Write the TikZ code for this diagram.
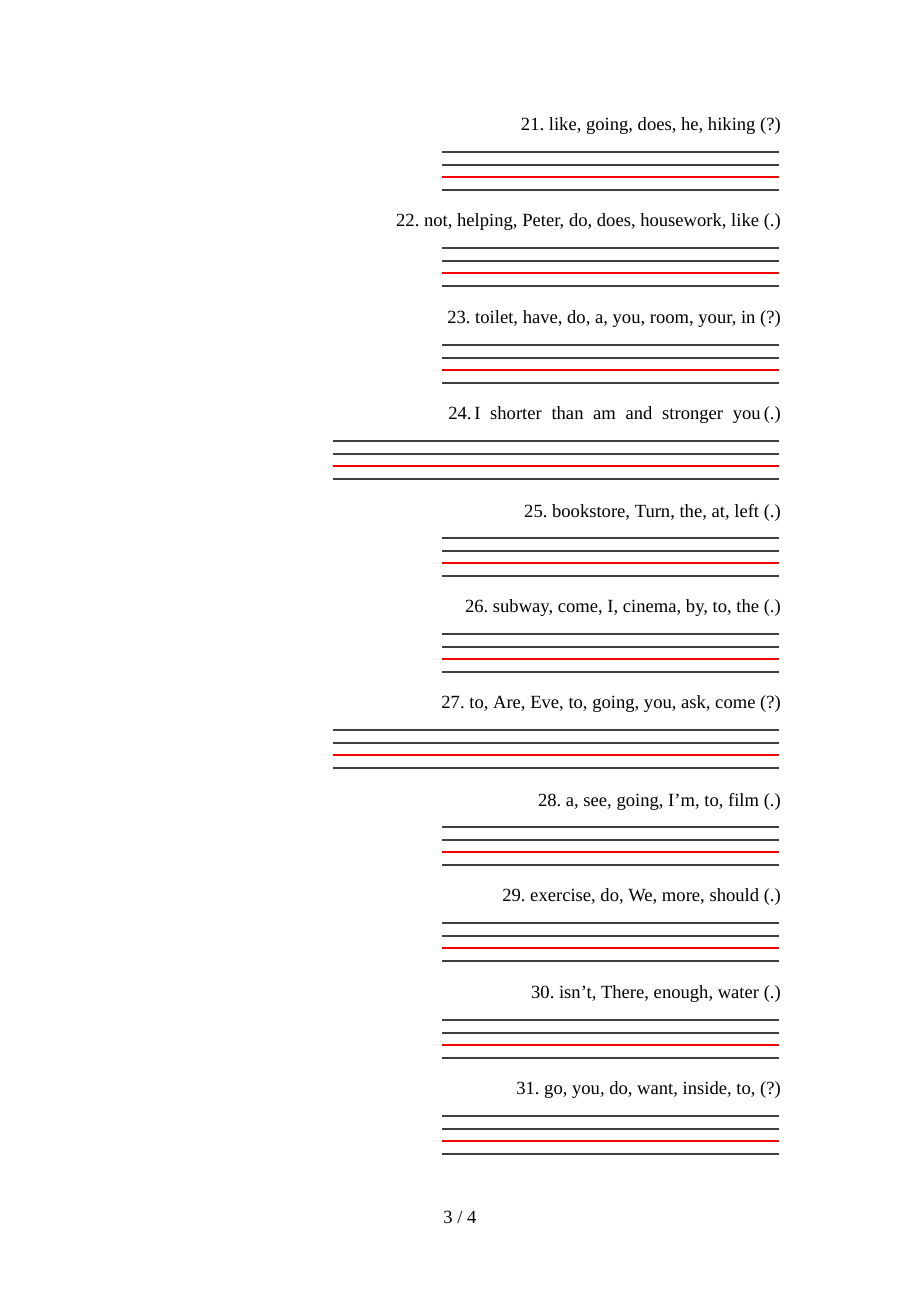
\documentclass[tikz,border=0pt]{standalone}
\usepackage{fontspec}
\setmainfont{Liberation Serif}
\frenchspacing
\newcommand\ruleset[2]{%
  \draw[rl] (#2,#1+28) -- (779,#1+28);
  \draw[rl] (#2,#1+41) -- (779,#1+41);
  \draw[redl] (#2,#1+53) -- (779,#1+53);
  \draw[rl] (#2,#1+66) -- (779,#1+66);}
\begin{document}
\begin{tikzpicture}[x=1pt,y=-1pt,
  q/.style={anchor=east,inner sep=0pt,font=\fontsize{18.6}{21}\selectfont},
  rl/.style={line width=1.1pt,draw=black!75},
  redl/.style={line width=1.1pt,draw=red!95!black}]
\useasboundingbox (0,0) rectangle (920,1302);
\node[q] (q21) at (781,126.5) {21. like, going, does, he, hiking (?)};
\ruleset{124}{442}
\node[q] (q22) at (781,222.5) {22. not, helping, Peter, do, does, housework, like (.)};
\ruleset{220}{442}
\node[q] (q23) at (781,319.5) {23. toilet, have, do, a, you, room, your, in (?)};
\ruleset{317}{442}
\node[q] (q24) at (781,415.5) {24.\hspace{0.15em}I\hspace{0.27em} shorter\hspace{0.27em} than\hspace{0.27em} am\hspace{0.27em} and\hspace{0.27em} stronger\hspace{0.27em} you\,(.)};
\ruleset{413}{333}
\node[q] (q25) at (781,512.5) {25. bookstore, Turn, the, at, left (.)};
\ruleset{510}{442}
\node[q] (q26) at (781,608.5) {26. subway, come, I, cinema, by, to, the (.)};
\ruleset{606}{442}
\node[q] (q27) at (781,704.5) {27. to, Are, Eve, to, going, you, ask, come (?)};
\ruleset{702}{333}
\node[q] (q28) at (781,801.5) {28. a, see, going, I’m, to, film (.)};
\ruleset{799}{442}
\node[q] (q29) at (781,897.5) {29. exercise, do, We, more, should (.)};
\ruleset{895}{442}
\node[q] (q30) at (781,994.5) {30. isn’t, There, enough, water (.)};
\ruleset{992}{442}
\node[q] (q31) at (781,1090.5) {31. go, you, do, want, inside, to, (?)};
\ruleset{1088}{442}
\node[q,anchor=center] (pg) at (460,1217) {3 / 4};
\end{tikzpicture}
\end{document}
